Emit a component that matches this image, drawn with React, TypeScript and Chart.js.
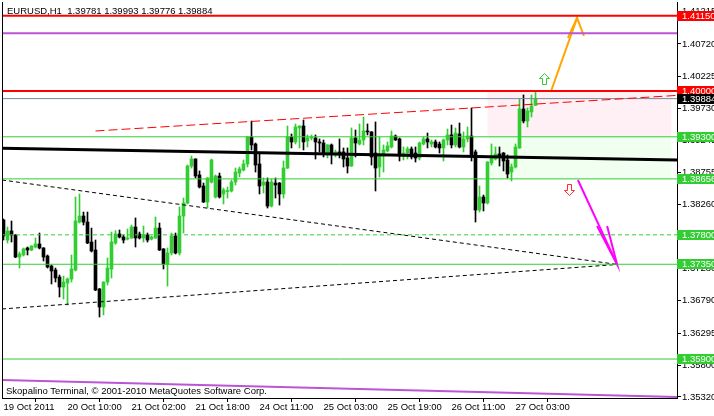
import React, { useEffect, useRef } from "react";
import { Chart, registerables } from "chart.js";

Chart.register(...registerables);

// ---------- data ----------
const symbolTitle = "EURUSD,H1";
const copyrightText = "Skopalino Terminal, \u00A9 2001-2010 MetaQuotes Software Corp.";

const opens = [
  1.38027, 1.37721, 1.37859, 1.37797, 1.37461, 1.37492, 1.37599, 1.37568, 1.37614, 1.3766,
  1.37599, 1.37476, 1.37323, 1.37262, 1.37155, 1.37002, 1.37063, 1.37124, 1.37262, 1.37996,
  1.38088, 1.37996, 1.3769, 1.37568, 1.36971, 1.36696, 1.37078, 1.37277, 1.37675, 1.37813,
  1.37767, 1.37736, 1.37752, 1.3792, 1.37813, 1.37752, 1.37797, 1.37736, 1.37752, 1.37904,
  1.37584, 1.37354, 1.37522, 1.37782, 1.37522, 1.38088, 1.38287, 1.38853, 1.3896, 1.38716,
  1.38547, 1.38302, 1.38608, 1.38379, 1.387, 1.38425, 1.38463, 1.38471, 1.38608, 1.38746,
  1.38792, 1.38884, 1.39297, 1.3919, 1.38884, 1.38563, 1.38608, 1.38241, 1.38593, 1.38593,
  1.38425, 1.38822, 1.39297, 1.39221, 1.39435, 1.39465, 1.39236, 1.39282, 1.39282, 1.39221,
  1.39205, 1.39052, 1.39175, 1.39052, 1.39068, 1.39068, 1.38976, 1.38853, 1.39282, 1.3919,
  1.39251, 1.39389, 1.39374, 1.39052, 1.38838, 1.39006, 1.39083, 1.39144, 1.39312, 1.39267,
  1.39006, 1.39052, 1.39114, 1.39052, 1.38976, 1.3919, 1.39267, 1.3919, 1.39221, 1.3919,
  1.39129, 1.39251, 1.39328, 1.39175, 1.39343, 1.39144, 1.39267, 1.39312, 1.39068, 1.3818,
  1.38379, 1.38287, 1.38899, 1.3896, 1.39037, 1.39052, 1.38945, 1.38761, 1.38838, 1.39129,
  1.39725, 1.39542, 1.3968, 1.39781,
];
const highs = [
  1.38042, 1.3792, 1.38012, 1.37805, 1.37538, 1.37599, 1.37614, 1.37634, 1.37752, 1.37828,
  1.37605, 1.37492, 1.37339, 1.37292, 1.37186, 1.3717, 1.3714, 1.37492, 1.38379, 1.38425,
  1.38149, 1.38149, 1.37904, 1.37721, 1.3698, 1.37083, 1.37446, 1.37843, 1.37864, 1.37874,
  1.37797, 1.37889, 1.3795, 1.38058, 1.37843, 1.37935, 1.37828, 1.37782, 1.38073, 1.37981,
  1.3759, 1.37599, 1.37828, 1.37828, 1.38226, 1.38363, 1.38868, 1.39006, 1.38965, 1.38777,
  1.38593, 1.38675, 1.3896, 1.38716, 1.38746, 1.38517, 1.38532, 1.38639, 1.38822, 1.38838,
  1.38945, 1.39305, 1.39541, 1.39205, 1.39052, 1.3867, 1.3867, 1.38654, 1.3867, 1.386,
  1.3893, 1.39465, 1.39343, 1.39496, 1.3947, 1.39557, 1.39328, 1.39328, 1.39328, 1.39267,
  1.39251, 1.3918, 1.3919, 1.39098, 1.39267, 1.39129, 1.39129, 1.39435, 1.39404, 1.39496,
  1.39603, 1.39496, 1.3938, 1.39527, 1.39297, 1.39175, 1.39221, 1.39389, 1.39328, 1.39282,
  1.39144, 1.39144, 1.39144, 1.39144, 1.39221, 1.39297, 1.39358, 1.39251, 1.39251, 1.39221,
  1.39267, 1.39419, 1.3948, 1.39435, 1.39511, 1.39374, 1.3945, 1.39741, 1.39098, 1.38547,
  1.38409, 1.3892, 1.3919, 1.39144, 1.39144, 1.3906, 1.39022, 1.38884, 1.3919, 1.39878,
  1.3994, 1.39741, 1.3994, 1.39993,
];
const lows = [
  1.37721, 1.37675, 1.3769, 1.3745, 1.37292, 1.37476, 1.37492, 1.37557, 1.37599, 1.37584,
  1.374, 1.37292, 1.37048, 1.37078, 1.36849, 1.36818, 1.36727, 1.37078, 1.37247, 1.37981,
  1.3795, 1.37665, 1.37538, 1.36945, 1.36543, 1.36574, 1.37033, 1.3714, 1.37655, 1.37752,
  1.37675, 1.37721, 1.37745, 1.37614, 1.37736, 1.3769, 1.3769, 1.37721, 1.37745, 1.3756,
  1.37277, 1.37017, 1.37492, 1.37507, 1.37492, 1.37828, 1.38272, 1.38822, 1.3867, 1.38517,
  1.38295, 1.3821, 1.38593, 1.38363, 1.38363, 1.38272, 1.38363, 1.38455, 1.38563, 1.38685,
  1.38777, 1.38838, 1.39098, 1.38761, 1.38425, 1.3844, 1.3821, 1.38226, 1.38363, 1.38256,
  1.38363, 1.38815, 1.39129, 1.3919, 1.39129, 1.39098, 1.39144, 1.39251, 1.3896, 1.39068,
  1.38991, 1.38976, 1.38884, 1.38991, 1.38976, 1.38838, 1.38746, 1.38845, 1.38991, 1.39175,
  1.39175, 1.39328, 1.38868, 1.38471, 1.38685, 1.38761, 1.39068, 1.39129, 1.39245, 1.3893,
  1.38945, 1.3896, 1.3896, 1.38914, 1.38945, 1.39175, 1.39129, 1.39144, 1.39129, 1.39052,
  1.3893, 1.39175, 1.39129, 1.39144, 1.39129, 1.39068, 1.39221, 1.3893, 1.37996, 1.38149,
  1.38165, 1.38272, 1.38868, 1.38945, 1.38853, 1.38777, 1.3867, 1.38624, 1.38822, 1.39122,
  1.39512, 1.3945, 1.39603, 1.39776,
];
const closes = [
  1.37782, 1.37859, 1.37797, 1.37461, 1.37507, 1.37584, 1.37568, 1.37629, 1.3766, 1.37599,
  1.37461, 1.37308, 1.37247, 1.3714, 1.37002, 1.37078, 1.37124, 1.37277, 1.38012, 1.38088,
  1.37996, 1.37675, 1.37553, 1.36956, 1.36696, 1.37078, 1.37292, 1.3769, 1.37813, 1.37767,
  1.37721, 1.37752, 1.3792, 1.37752, 1.37752, 1.37797, 1.37721, 1.37767, 1.37904, 1.37568,
  1.37354, 1.37522, 1.37782, 1.37522, 1.38088, 1.38287, 1.38853, 1.3896, 1.387, 1.38532,
  1.38302, 1.3867, 1.38945, 1.387, 1.38379, 1.38486, 1.38478, 1.38608, 1.38761, 1.38807,
  1.38884, 1.39297, 1.39175, 1.38868, 1.38547, 1.38608, 1.38241, 1.38608, 1.38563, 1.38425,
  1.38822, 1.39297, 1.39221, 1.3945, 1.39465, 1.39221, 1.39282, 1.39297, 1.39221, 1.39205,
  1.39052, 1.39175, 1.39052, 1.39068, 1.39052, 1.3896, 1.38853, 1.39282, 1.39205, 1.39251,
  1.39389, 1.39374, 1.38991, 1.38822, 1.39006, 1.39098, 1.3916, 1.39312, 1.39251, 1.39006,
  1.39052, 1.39114, 1.38991, 1.38976, 1.39205, 1.39267, 1.39221, 1.39221, 1.39144, 1.39129,
  1.39251, 1.39328, 1.39175, 1.39358, 1.39144, 1.39267, 1.39312, 1.39022, 1.3818, 1.38379,
  1.38287, 1.38914, 1.38976, 1.39037, 1.38991, 1.3893, 1.38731, 1.38838, 1.39144, 1.39725,
  1.39542, 1.39695, 1.39771, 1.39884,
];

const xTickIndex = [0, 16, 32, 48, 64, 80, 96, 112, 128];
const xTickText = [
  "19 Oct 2011", "20 Oct 10:00", "21 Oct 02:00", "21 Oct 18:00", "24 Oct 11:00",
  "25 Oct 03:00", "25 Oct 19:00", "26 Oct 11:00", "27 Oct 03:00",
];
const yTickValues = [
  1.41215, 1.4072, 1.40225, 1.3973, 1.39245, 1.38755, 1.3826, 1.3777, 1.3728, 1.3679,
  1.36295, 1.358, 1.3532,
];

// horizontal levels
const redLevels = [1.4115, 1.4];
const purpleLevel = 1.40884;
const bidLevel = 1.39884;
const greenLevels = [1.393, 1.38656, 1.3735, 1.359];
const greenDashedLevel = 1.378;

// trend lines: [barIndex, price]
const redTrend = [[23, 1.39389], [168.375, 1.39933]];
const blackTrend = [[-0.375, 1.39124], [168.375, 1.38945]];
const purpleTrend = [[-0.375, 1.3558], [168.375, 1.3532]];
const upperChannel = [[-0.375, 1.38639], [153.5, 1.37347]];
const lowerChannel = [[-0.375, 1.36666], [153.5, 1.37347]];

// arrows drawn as lines
const orangeShaft = [[136.9, 1.4], [143.4, 1.41118]];
const orangeHead = [[141.1, 1.40812], [143.4, 1.41118], [145.1, 1.40842]];
const magentaShaft = [[143.6, 1.38639], [153.4, 1.37347]];
const magentaHead = [[148.4, 1.37935], [153.4, 1.37347], [150.9, 1.37935]];

// hollow symbol arrows: [barIndex, price]
const upSymbol = [135, 1.40269];
const downSymbol = [141.4, 1.38578];

// rectangles: [fromBar, toBar, topPrice, bottomPrice]
const pinkZone = [121, 167, 1.4, 1.393];
const greenZone = [121.5, 167, 1.393, 1.38656];

// axis price labels
const redLabelLevels = [1.4115, 1.4];
const greenLabelLevels = [1.393, 1.38656, 1.378, 1.3735, 1.359];

const X_MIN = -0.375;
const X_MAX = 168.375;
const Y_MIN = 1.35304;
const Y_MAX = 1.41362;

// ---------- styles ----------
const FONT = "'Liberation Sans', Arial, sans-serif";
const FS = 9.5;
const GREEN = "#32cd32";
const RED = "#ff0000";
const PURPLE = "#ba55d3";

const pts = (arr: number[][]) => arr.map(([x, y]) => ({ x, y }));
const hline = (v: number) => [{ x: X_MIN, y: v }, { x: X_MAX, y: v }];

function lineDs(data: any[], color: string, width: number, dash: number[] = []) {
  return {
    type: "line" as const,
    data,
    borderColor: color,
    backgroundColor: color,
    borderWidth: width,
    borderDash: dash,
    pointRadius: 0,
    pointHoverRadius: 0,
    fill: false,
    tension: 0,
    order: 1,
  };
}

const zeroPad = (s: any) => {
  s.paddingTop = 0;
  s.paddingBottom = 0;
  s.paddingLeft = 0;
  s.paddingRight = 0;
};

const overlayPlugin = {
  id: "mtOverlay",
  beforeDatasetsDraw(chart: any) {
    const { ctx, scales } = chart;
    const x = scales.x;
    const y = scales.y;
    ctx.save();
    const zones: [number[], string][] = [
      [pinkZone, "#fff0f5"],
      [greenZone, "#f0fff0"],
    ];
    zones.forEach(([z, c]) => {
      const x0 = x.getPixelForValue(z[0]);
      const x1 = x.getPixelForValue(z[1]);
      const y0 = y.getPixelForValue(z[2]);
      const y1 = y.getPixelForValue(z[3]);
      ctx.fillStyle = c;
      ctx.fillRect(x0, y0, x1 - x0, y1 - y0);
    });
    ctx.restore();
  },
  afterDatasetsDraw(chart: any) {
    const { ctx, scales } = chart;
    const x = scales.x;
    const y = scales.y;
    ctx.save();
    ctx.lineWidth = 1;
    {
      const cx = Math.round(x.getPixelForValue(upSymbol[0])) + 0.5;
      const ty = Math.round(y.getPixelForValue(upSymbol[1])) + 0.5;
      ctx.beginPath();
      ctx.moveTo(cx, ty);
      ctx.lineTo(cx + 5, ty + 5);
      ctx.lineTo(cx + 2, ty + 5);
      ctx.lineTo(cx + 2, ty + 11);
      ctx.lineTo(cx - 2, ty + 11);
      ctx.lineTo(cx - 2, ty + 5);
      ctx.lineTo(cx - 5, ty + 5);
      ctx.closePath();
      ctx.fillStyle = "#ffffff";
      ctx.fill();
      ctx.strokeStyle = GREEN;
      ctx.stroke();
    }
    {
      const cx = Math.round(x.getPixelForValue(downSymbol[0])) + 0.5;
      const ty = Math.round(y.getPixelForValue(downSymbol[1])) + 0.5;
      ctx.beginPath();
      ctx.moveTo(cx - 2, ty);
      ctx.lineTo(cx + 2, ty);
      ctx.lineTo(cx + 2, ty + 6);
      ctx.lineTo(cx + 5, ty + 6);
      ctx.lineTo(cx, ty + 11);
      ctx.lineTo(cx - 5, ty + 6);
      ctx.lineTo(cx - 2, ty + 6);
      ctx.closePath();
      ctx.fillStyle = "#ffffff";
      ctx.fill();
      ctx.strokeStyle = "#ff3030";
      ctx.stroke();
    }
    ctx.restore();
  },
  afterDraw(chart: any) {
    const { ctx, scales, chartArea } = chart;
    const y = scales.y;
    ctx.save();
    ctx.strokeStyle = "#000";
    ctx.lineWidth = 1;
    ctx.beginPath();
    ctx.moveTo(chartArea.left + 0.5, chartArea.top);
    ctx.lineTo(chartArea.left + 0.5, chartArea.bottom);
    ctx.stroke();

    ctx.font = `${FS}px ${FONT}`;
    ctx.textBaseline = "middle";
    ctx.textAlign = "left";
    const box = (v: number, bg: string) => {
      const py = Math.round(y.getPixelForValue(v));
      ctx.fillStyle = bg;
      ctx.fillRect(chartArea.right, py - 5, chart.width - chartArea.right, 10);
      ctx.fillStyle = "#ffffff";
      ctx.fillText(v.toFixed(5), chartArea.right + 5, py);
    };
    redLabelLevels.forEach((v) => box(v, RED));
    box(bidLevel, "#000000");
    greenLabelLevels.forEach((v) => box(v, GREEN));

    ctx.fillStyle = "#000";
    ctx.textBaseline = "alphabetic";
    const n = closes.length - 1;
    const title = `${symbolTitle}  ${opens[n].toFixed(5)} ${highs[n].toFixed(5)} ${lows[n].toFixed(5)} ${closes[n].toFixed(5)}`;
    ctx.fillText(title, 7, 14);
    ctx.fillText(copyrightText, 6, 394);
    ctx.restore();
  },
};

export default function App() {
  const ref = useRef<HTMLCanvasElement | null>(null);

  useEffect(() => {
    document.body.style.margin = "0";
    const canvas = ref.current;
    if (!canvas) return;
    const idx = opens.map((_, i) => i);
    const colors = idx.map((i) => (closes[i] >= opens[i] ? GREEN : "#000000"));

    const chart = new Chart(canvas, {
      type: "bar",
      data: {
        datasets: [
          lineDs(pts(redTrend), RED, 1, [9, 4]),
          lineDs(hline(redLevels[0]), RED, 2),
          lineDs(hline(redLevels[1]), RED, 2),
          lineDs(hline(purpleLevel), PURPLE, 2),
          lineDs(hline(bidLevel), "#778899", 1),
          ...greenLevels.map((v) => lineDs(hline(v), GREEN, 1)),
          lineDs(hline(greenDashedLevel), GREEN, 1, [4, 3]),
          lineDs(pts(blackTrend), "#000000", 3),
          lineDs(pts(purpleTrend), PURPLE, 2),
          lineDs(pts(upperChannel), "#000000", 1, [4, 3]),
          lineDs(pts(lowerChannel), "#000000", 1, [4, 3]),
          lineDs(pts(orangeShaft), "#ffa500", 2),
          lineDs(pts(orangeHead), "#ffa500", 2),
          lineDs(pts(magentaShaft), "#ff00ff", 2),
          lineDs(pts(magentaHead), "#ff00ff", 2),
          {
            type: "bar",
            data: idx.map((i) => ({ x: i, y: [lows[i], highs[i]] })),
            backgroundColor: colors,
            borderWidth: 0,
            barThickness: 1,
            grouped: false,
            minBarLength: 1,
            order: 20,
          } as any,
          {
            type: "bar",
            data: idx.map((i) => ({
              x: i,
              y: [Math.min(opens[i], closes[i]), Math.max(opens[i], closes[i])],
            })),
            backgroundColor: colors,
            borderWidth: 0,
            barThickness: 3,
            grouped: false,
            minBarLength: 1,
            order: 19,
          } as any,
        ] as any,
      },
      options: {
        animation: false,
        responsive: false,
        devicePixelRatio: 1,
        layout: { padding: { left: 2, top: 2, right: 0, bottom: 0 } },
        plugins: { legend: { display: false }, tooltip: { enabled: false } },
        events: [],
        scales: {
          x: {
            type: "linear",
            min: X_MIN,
            max: X_MAX,
            position: "bottom",
            offset: false,
            afterBuildTicks: (s: any) => {
              s.ticks = xTickIndex.map((v) => ({ value: v }));
            },
            afterFit: (s: any) => {
              s.height = 18;
              zeroPad(s);
            },
            ticks: {
              autoSkip: false,
              maxRotation: 0,
              minRotation: 0,
              align: "start",
              padding: 0,
              color: "#000",
              font: { family: FONT, size: FS },
              callback: (v: any) => {
                const k = xTickIndex.indexOf(Number(v));
                return k >= 0 ? xTickText[k] : "";
              },
            },
            grid: { drawOnChartArea: false, drawTicks: true, tickLength: 4, color: "#000" },
            border: { display: true, color: "#000", width: 1 },
          },
          y: {
            type: "linear",
            position: "right",
            min: Y_MIN,
            max: Y_MAX,
            afterBuildTicks: (s: any) => {
              s.ticks = yTickValues.map((v) => ({ value: v }));
            },
            afterFit: (s: any) => {
              s.width = 37;
              zeroPad(s);
            },
            ticks: {
              autoSkip: false,
              padding: 1,
              color: "#000",
              font: { family: FONT, size: FS },
              callback: (v: any) => Number(v).toFixed(5),
            },
            grid: { drawOnChartArea: false, drawTicks: true, tickLength: 4, color: "#000" },
            border: { display: true, color: "#000", width: 1 },
          },
        },
      } as any,
      plugins: [overlayPlugin],
    });
    return () => chart.destroy();
  }, []);

  return (
    <div style={{ width: 714, height: 416, background: "#fff" }}>
      <canvas ref={ref} width={714} height={416} style={{ display: "block" }} />
    </div>
  );
}
